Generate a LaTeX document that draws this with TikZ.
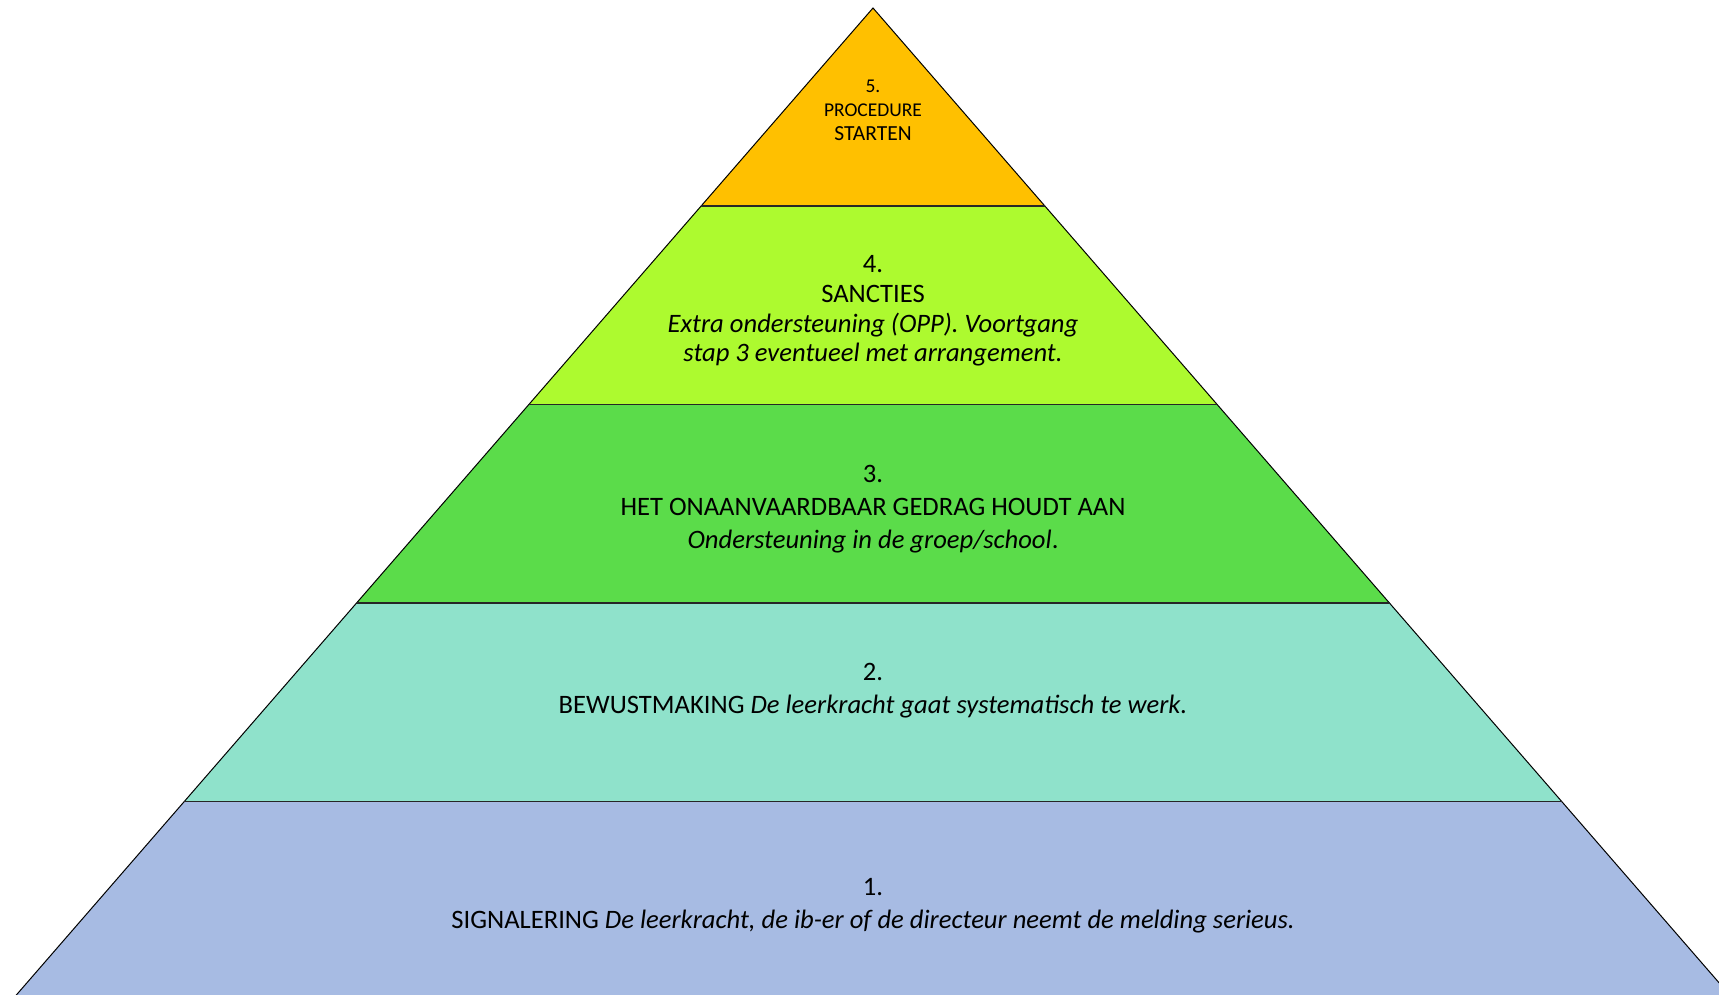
\documentclass[tikz,border=0pt]{standalone}
\usepackage{fontspec}
\setmainfont{Carlito}
\usepackage{tikz}

\definecolor{lvlone}{HTML}{A7BBE3}
\definecolor{lvltwo}{HTML}{8FE2CB}
\definecolor{lvlthree}{HTML}{5BDC4A}
\definecolor{lvlfour}{HTML}{ADFA2F}
\definecolor{lvlfive}{HTML}{FFC000}

\begin{document}
\begin{tikzpicture}[x=1pt,y=-1pt,
	lbl/.style={align=center,font=\fontsize{26.6}{32.8}\selectfont},
	toplbl/.style={align=center,font=\fontsize{19.5}{24}\selectfont},
	sep/.style={line width=1.6pt,black!85}]
	\useasboundingbox (0,0) rectangle (1719,995);
	\clip (0,0) rectangle (1719,995);
	% layers, bottom to top
	\fill[lvlone]   (12,1000) -- (184.4,801.5) -- (1561.6,801.5) -- (1734,1000) -- cycle;
	\fill[lvltwo]   (184.4,801.5) -- (356.5,603) -- (1389.5,603) -- (1561.6,801.5) -- cycle;
	\fill[lvlthree] (356.5,603) -- (529,404.5) -- (1217,404.5) -- (1389.5,603) -- cycle;
	\fill[lvlfour]  (529,404.5) -- (701,206) -- (1045,206) -- (1217,404.5) -- cycle;
	\fill[lvlfive]  (701,206) -- (873,8) -- (1045,206) -- cycle;
	% outline and separators
	\draw[line width=1pt] (12,1000) -- (873,8) -- (1734,1000);
	\draw[sep] (701,206) -- (1045,206);
	\draw[sep] (529,404.5) -- (1217,404.5);
	\draw[sep] (356.5,603) -- (1389.5,603);
	\draw[sep] (184.4,801.5) -- (1561.6,801.5);
	% texts
	\node[toplbl] (five) at (873,110) {5.\\PROCEDURE\\{\fontsize{21.5}{24}\selectfont STARTEN}};
	\node[lbl,font=\fontsize{26.6}{29.6}\selectfont] (four) at (873,311) {4.\\SANCTIES\\\textit{Extra ondersteuning (OPP). Voortgang}\\\textit{stap 3 eventueel met arrangement.}};
	\node[lbl] (three) at (873,509) {3.\\HET ONAANVAARDBAAR GEDRAG HOUDT AAN\\\textit{Ondersteuning in de groep/school}.};
	\node[lbl] (two) at (873,691) {2.\\BEWUSTMAKING \textit{De leerkracht gaat systematisch te werk.}};
	\node[lbl] (one) at (873,906) {1.\\SIGNALERING \textit{De leerkracht, de ib-er of de directeur neemt de melding serieus.}};
\end{tikzpicture}
\end{document}
